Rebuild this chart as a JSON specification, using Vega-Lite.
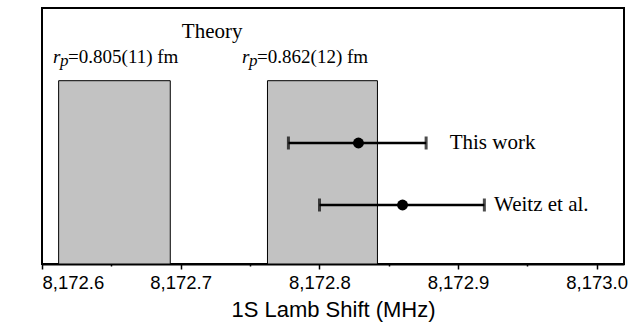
{
  "$schema": "https://vega.github.io/schema/vega-lite/v6.json",
  "width": 582,
  "height": 256,
  "autosize": {"type": "none"},
  "padding": {"left": 42, "top": 8, "right": 5, "bottom": 62},
  "background": "white",
  "config": {
    "view": {"stroke": "black", "strokeWidth": 2},
    "font": "Liberation Serif"
  },
  "datasets": {
    "bands": [
      {"lo": 8172.612, "hi": 8172.6925, "bottom": 0, "top": 183.3},
      {"lo": 8172.7626, "hi": 8172.8419, "bottom": 0, "top": 183.3}
    ],
    "meas": [
      {"name": "This work", "val": 8172.8282, "lo": 8172.7777, "hi": 8172.877, "y": 121, "lx": 8172.894},
      {"name": "Weitz et al.", "val": 8172.86, "lo": 8172.8001, "hi": 8172.919, "y": 59, "lx": 8172.926}
    ],
    "rp": [
      {"x": 8172.608, "y": 201, "r": "r", "p": "p", "rest": "=0.805(11) fm"},
      {"x": 8172.7443, "y": 201, "r": "r", "p": "p", "rest": "=0.862(12) fm"}
    ],
    "theory": [
      {"x": 8172.7227, "y": 232, "t": "Theory"}
    ]
  },
  "layer": [
    {
      "data": {"name": "bands"},
      "mark": {"type": "rect", "fill": "#c2c2c2", "stroke": "black", "strokeWidth": 1},
      "encoding": {
        "x": {
          "field": "lo",
          "type": "quantitative",
          "scale": {"domain": [8172.6, 8173.0197], "nice": false, "zero": false},
          "axis": {
            "title": "1S Lamb Shift (MHz)",
            "values": [8172.6, 8172.65, 8172.7, 8172.75, 8172.8, 8172.85, 8172.9, 8172.95, 8173.0],
            "labelExpr": "abs(datum.value*10 - round(datum.value*10)) < 0.01 ? format(datum.value, ',.1f') : ''",
            "labelFont": "Liberation Sans",
            "labelFontSize": 18.5,
            "labelColor": "black",
            "labelPadding": 4,
            "labelOverlap": false,
            "titleFont": "Liberation Sans",
            "titleFontSize": 22,
            "titleFontWeight": "normal",
            "titleColor": "black",
            "titlePadding": 8,
            "grid": false,
            "domainColor": "black",
            "domainWidth": 2,
            "tickColor": "black",
            "tickWidth": 1.5,
            "tickSize": {"condition": {"test": "abs(datum.value*10 - round(datum.value*10)) < 0.01", "value": 5}, "value": 2}
          }
        },
        "x2": {"field": "hi"},
        "y": {
          "field": "bottom",
          "type": "quantitative",
          "scale": {"domain": [0, 256], "nice": false, "zero": false},
          "axis": null
        },
        "y2": {"field": "top"}
      }
    },
    {
      "data": {"name": "meas"},
      "mark": {"type": "rule", "color": "black", "strokeWidth": 2.5},
      "encoding": {
        "x": {"field": "lo", "type": "quantitative"},
        "x2": {"field": "hi"},
        "y": {"field": "y", "type": "quantitative"}
      }
    },
    {
      "data": {"name": "meas"},
      "mark": {"type": "tick", "color": "black", "orient": "vertical", "size": 13, "thickness": 3},
      "encoding": {
        "x": {"field": "lo", "type": "quantitative"},
        "y": {"field": "y", "type": "quantitative"}
      }
    },
    {
      "data": {"name": "meas"},
      "mark": {"type": "tick", "color": "black", "orient": "vertical", "size": 13, "thickness": 3},
      "encoding": {
        "x": {"field": "hi", "type": "quantitative"},
        "y": {"field": "y", "type": "quantitative"}
      }
    },
    {
      "data": {"name": "meas"},
      "mark": {"type": "circle", "color": "black", "opacity": 1, "size": 120},
      "encoding": {
        "x": {"field": "val", "type": "quantitative"},
        "y": {"field": "y", "type": "quantitative"}
      }
    },
    {
      "data": {"name": "meas"},
      "mark": {"type": "text", "align": "left", "baseline": "middle", "fontSize": 21, "color": "black", "font": "Liberation Serif"},
      "encoding": {
        "x": {"field": "lx", "type": "quantitative"},
        "y": {"field": "y", "type": "quantitative"},
        "text": {"field": "name"}
      }
    },
    {
      "data": {"name": "theory"},
      "mark": {"type": "text", "align": "center", "baseline": "middle", "fontSize": 21, "color": "black", "font": "Liberation Serif"},
      "encoding": {
        "x": {"field": "x", "type": "quantitative"},
        "y": {"field": "y", "type": "quantitative"},
        "text": {"field": "t"}
      }
    },
    {
      "data": {"name": "rp"},
      "mark": {"type": "text", "align": "left", "baseline": "alphabetic", "fontSize": 19, "fontStyle": "italic", "color": "black", "font": "Liberation Serif"},
      "encoding": {
        "x": {"field": "x", "type": "quantitative"},
        "y": {"field": "y", "type": "quantitative"},
        "text": {"field": "r"}
      }
    },
    {
      "data": {"name": "rp"},
      "mark": {"type": "text", "align": "left", "baseline": "alphabetic", "fontSize": 17, "fontStyle": "italic", "color": "black", "font": "Liberation Serif", "dx": 7, "dy": 3},
      "encoding": {
        "x": {"field": "x", "type": "quantitative"},
        "y": {"field": "y", "type": "quantitative"},
        "text": {"field": "p"}
      }
    },
    {
      "data": {"name": "rp"},
      "mark": {"type": "text", "align": "left", "baseline": "alphabetic", "fontSize": 19, "color": "black", "font": "Liberation Serif", "dx": 15},
      "encoding": {
        "x": {"field": "x", "type": "quantitative"},
        "y": {"field": "y", "type": "quantitative"},
        "text": {"field": "rest"}
      }
    }
  ]
}
